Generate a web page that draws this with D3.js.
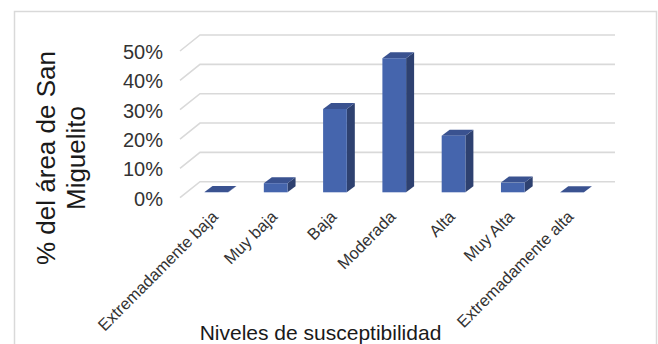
<!DOCTYPE html>
<html><head><meta charset="utf-8">
<script src="https://cdn.jsdelivr.net/npm/d3@7"></script>
<style>body{margin:0;background:#fff}svg{display:block}text{font-family:"Liberation Sans",Arial,sans-serif}</style>
</head><body><svg id="c" width="658" height="344"></svg>
<script>
const categories = ["Extremadamente baja","Muy baja","Baja","Moderada","Alta","Muy Alta","Extremadamente alta"];
const values = [0.001,0.031,0.284,0.457,0.193,0.033,0.0005];
const yTicks = [0,0.1,0.2,0.3,0.4,0.5];
const yTitleLines = ["% del área de San","Miguelito"];
const xTitle = "Niveles de susceptibilidad";

const svg = d3.select("#c");
svg.append("rect").attr("x",14.5).attr("y",11.5).attr("width",642).attr("height",340)
  .attr("fill","#fff").attr("stroke","#d9d9d9").attr("stroke-width",1.5);

const y = d3.scaleLinear().domain([0,0.5]).range([181.7,35]);
const backX0=200, backX1=615;
const floorDx=-20, floorDy=16;
const barOffDx=-13.25, barOffDy=10.6;
const depthDx=8, depthDy=-6;

const x = d3.scaleBand().domain(categories).range([backX0+barOffDx, backX1+barOffDx]).paddingInner(0.6).paddingOuter(0.3);

// gridlines (side wall + back wall)
const grid = svg.append("g");
yTicks.forEach(t=>{
  grid.append("polyline")
    .attr("points",[[backX0+floorDx,y(t)+floorDy],[backX0,y(t)],[backX1,y(t)]].map(p=>p.join(",")).join(" "))
    .attr("fill","none").attr("stroke","#d9d9d9").attr("stroke-width",1.6);
});

// y tick labels
const fmt = d3.format(".0%");
svg.append("g").selectAll("text").data(yTicks).join("text")
  .attr("x",163).attr("y",t=>y(t)+floorDy+1)
  .attr("text-anchor","end").attr("dominant-baseline","central")
  .attr("font-size",20).attr("fill","#333").text(t=>fmt(t));

// bars
const bw = x.bandwidth();
const yb = y(0)+barOffDy;
const bars = svg.append("g");
categories.forEach((c,i)=>{
  const v = values[i];
  const x0 = x(c), yt = y(v)+barOffDy;
  const g = bars.append("g");
  g.append("polygon").attr("points",[[x0+bw,yt],[x0+bw+depthDx,yt+depthDy],[x0+bw+depthDx,yb+depthDy],[x0+bw,yb]].map(p=>p.join(",")).join(" "))
    .attr("fill","#2e4170");
  g.append("polygon").attr("points",[[x0,yt],[x0+depthDx,yt+depthDy],[x0+bw+depthDx,yt+depthDy],[x0+bw,yt]].map(p=>p.join(",")).join(" "))
    .attr("fill","#3a5290");
  g.append("rect").attr("x",x0).attr("y",yt).attr("width",bw).attr("height",Math.max(0,yb-yt))
    .attr("fill","#4565ad");
});

// x labels
svg.append("g").selectAll("text").data(categories).join("text")
  .attr("transform",d=>`translate(${x(d)+bw/2+2.5},${yb+25.5}) rotate(-45)`)
  .attr("text-anchor","end").attr("font-size",16.5).attr("fill","#333").text(d=>d);

// axis titles
svg.append("text").attr("x",320.5).attr("y",340).attr("text-anchor","middle")
  .attr("font-size",21).attr("fill","#1a1a1a").text(xTitle);
const yt = svg.append("text").attr("transform","translate(55,158) rotate(-90)")
  .attr("text-anchor","middle").attr("font-size",26).attr("fill","#1a1a1a");
yTitleLines.forEach((l,i)=>yt.append("tspan").attr("x",0).attr("dy",i? 30:0).text(l));
</script></body></html>
